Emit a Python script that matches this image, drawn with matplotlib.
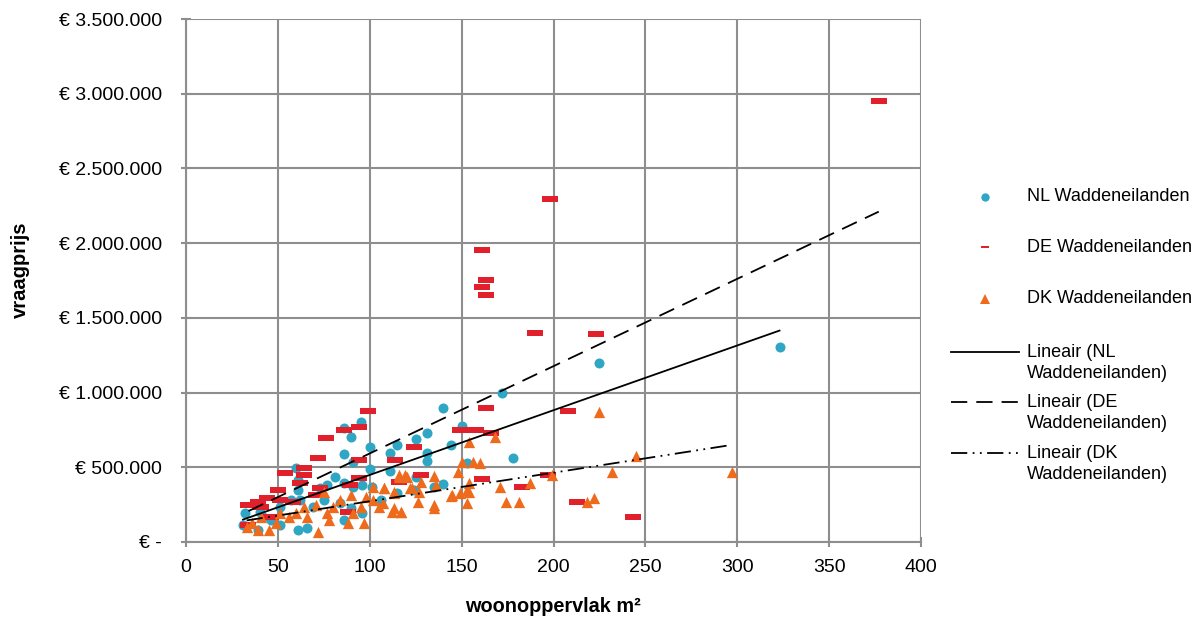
import numpy as np
import matplotlib
matplotlib.use("Agg")
import matplotlib.pyplot as plt
from matplotlib.lines import Line2D
from matplotlib.ticker import FuncFormatter, MultipleLocator

plt.rcParams['font.family'] = ['Liberation Sans', 'DejaVu Sans']

# woonoppervlak (m2) and vraagprijs (EUR) per group
nl_area = [323, 225, 172, 140, 95, 86, 90, 150, 131, 125, 100, 115, 111, 144, 131, 131,
           86, 178, 91, 100, 111, 60, 81, 86, 91, 96, 101, 125, 140, 153, 77, 73,
           61, 61, 62, 57, 51, 40, 32, 31, 39, 51, 61, 66, 86, 96, 106, 115, 124,
           135, 84, 90, 75, 69, 46, 42]
nl_price = [1305000, 1200000, 995000, 895000, 800000, 760000, 700000, 776000, 727000,
            687000, 638000, 649000, 598000, 649000, 598000, 544000, 587000, 560000,
            537000, 486000, 477000, 497000, 433000, 393000, 370000, 381000, 370000,
            437000, 388000, 527000, 381000, 359000, 348000, 415000, 281000, 281000,
            236000, 203000, 196000, 114000, 80000, 114000, 80000, 92000, 147000,
            192000, 281000, 326000, 348000, 370000, 259000, 225000, 281000, 236000,
            147000, 170000]

de_area = [377, 198, 161, 163, 161, 163, 190, 223, 163, 208, 149, 158, 166, 124, 114,
           128, 116, 161, 197, 183, 213, 243, 99, 86, 94, 76, 72, 94, 54, 64, 64, 62,
           73, 71, 94, 50, 44, 39, 34, 41, 51, 58, 46, 34, 88, 89]
de_price = [2950000, 2295000, 1954000, 1753000, 1706000, 1653000, 1399000, 1392000,
            897000, 877000, 750000, 750000, 730000, 636000, 549000, 450000, 400000,
            420000, 448000, 370000, 270000, 165000, 877000, 750000, 770000, 694000,
            560000, 549000, 464000, 493000, 448000, 397000, 359000, 315000, 426000,
            348000, 292000, 270000, 248000, 236000, 281000, 270000, 170000, 114000,
            203000, 380000]

dk_area = [297, 245, 232, 225, 168, 199, 187, 174, 181, 218, 222, 171, 154, 150, 156,
           160, 148, 154, 153, 153, 149, 144, 135, 128, 123, 116, 119, 108, 113, 117,
           113, 126, 135, 116, 120, 135, 102, 108, 113, 122, 127, 136, 145, 154, 98,
           97, 91, 88, 90, 84, 80, 77, 75, 71, 72, 66, 60, 56, 51, 49, 45, 39, 41, 64,
           78, 95, 102, 107, 105, 112, 117, 33, 36]
dk_price = [470000, 575000, 470000, 872000, 700000, 448000, 393000, 270000, 270000,
            270000, 292000, 366000, 672000, 533000, 533000, 527000, 470000, 393000,
            348000, 259000, 326000, 310000, 248000, 404000, 359000, 448000, 448000,
            359000, 326000, 203000, 225000, 270000, 225000, 437000, 437000, 442000,
            370000, 359000, 337000, 359000, 337000, 381000, 315000, 337000, 303000,
            125000, 192000, 125000, 315000, 281000, 236000, 192000, 337000, 248000,
            70000, 170000, 192000, 170000, 192000, 125000, 80000, 80000, 170000,
            236000, 147000, 236000, 281000, 259000, 236000, 203000, 203000, 100000,
            130000]

labels = ['NL Waddeneilanden', 'DE Waddeneilanden', 'DK Waddeneilanden']
trend_labels = ['Lineair (NL\nWaddeneilanden)', 'Lineair (DE\nWaddeneilanden)',
                'Lineair (DK\nWaddeneilanden)']

c_nl = '#2ea6c4'
c_de = '#e0202a'
c_dk = '#ee6a1c'
grid_c = '#8e8e8e'

dash_marker = [(-1.3, -0.45), (1.3, -0.45), (1.3, 0.45), (-1.3, 0.45), (-1.3, -0.45)]
dashdotdot = (0, (9, 3, 1, 3, 1, 3))

fig = plt.figure(figsize=(12.04, 6.25), dpi=100)
ax = fig.add_axes([186 / 1204, 83 / 625, 735 / 1204, 523 / 625])

ax.scatter(nl_area, nl_price, s=52, marker='o', color=c_nl, linewidths=0, zorder=3)
ax.scatter(de_area, de_price, s=125, marker=dash_marker, color=c_de, linewidths=0, zorder=3)
ax.scatter(dk_area, dk_price, s=66, marker='^', color=c_dk, linewidths=0, zorder=3)

# linear trend lines (least squares, like Excel "Lineair")
styles = ['-', (0, (9, 5)), dashdotdot]
for xs, ys, ls in zip([nl_area, de_area, dk_area], [nl_price, de_price, dk_price], styles):
    xs = np.array(xs, dtype=float)
    ys = np.array(ys, dtype=float)
    k, b = np.polyfit(xs, ys, 1)
    xx = np.array([xs.min(), xs.max()])
    ax.plot(xx, k * xx + b, color='black', lw=1.3, linestyle=ls, zorder=4)

ax.set_xlim(0, 400)
ax.set_ylim(0, 3500000)
ax.xaxis.set_major_locator(MultipleLocator(50))
ax.yaxis.set_major_locator(MultipleLocator(500000))


def euro(v, pos):
    if v == 0:
        return '€ -'
    return '€ ' + f'{int(v):,}'.replace(',', '.')


ax.yaxis.set_major_formatter(FuncFormatter(euro))
ax.grid(True, color=grid_c, lw=1.5)
ax.set_axisbelow(True)
for s in ['top', 'right']:
    ax.spines[s].set_visible(False)
for s in ['left', 'bottom']:
    ax.spines[s].set_color(grid_c)
    ax.spines[s].set_linewidth(1.5)
ax.tick_params(direction='inout', length=7, width=1.5, color=grid_c, labelsize=14)
ax.tick_params(axis='x', pad=9)
ax.tick_params(axis='y', pad=14)

fig.text(553 / 1204, 1 - 607 / 625, 'woonoppervlak m²', fontsize=14.3,
         fontweight='bold', ha='center', va='center')
fig.text(20 / 1204, 1 - 270 / 625, 'vraagprijs', fontsize=14.5,
         fontweight='bold', ha='center', va='center', rotation=90)

# legend, placed by hand like the Excel one
lx = 985 / 1204
tx = 1027 / 1204
ys_m = [197, 247, 299]
marker_handles = [('o', c_nl, 6), (dash_marker, c_de, 6), ('^', c_dk, 7)]
for y, (m, c, ms), lab in zip(ys_m, marker_handles, labels):
    fy = 1 - y / 625
    fig.add_artist(Line2D([lx], [fy], marker=m, color=c, markersize=ms, linestyle='none',
                          markeredgewidth=0, transform=fig.transFigure))
    fig.text(tx, fy, lab, fontsize=13, va='center', ha='left')

ys_l = [363, 413, 464]
for y, ls, lab in zip(ys_l, styles, trend_labels):
    fy = 1 - y / 625
    fl = 1 - (y - 11) / 625
    fig.add_artist(Line2D([951 / 1204, 1019 / 1204], [fl, fl], color='black', lw=1.3,
                          linestyle=ls, transform=fig.transFigure))
    fig.text(tx, fy, lab, fontsize=13, va='center', ha='left', linespacing=1.3)

fig.savefig('out.png', dpi=100)
